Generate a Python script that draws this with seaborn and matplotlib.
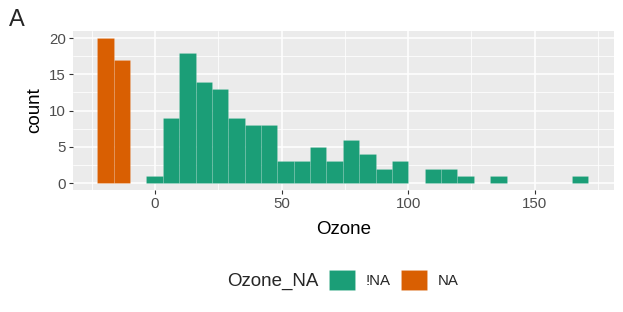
import numpy as np
import pandas as pd
import matplotlib
matplotlib.use("Agg")
import matplotlib.pyplot as plt
from matplotlib.ticker import MultipleLocator
import seaborn as sns

# histogram bins (30 bins, ggplot style) and counts
first_center = -19.6
bin_width = 6.47
n_bins = 30
na_counts = [20, 17]                      # bins 1-2 (shifted NA values)
obs_counts = [0, 1, 9, 18, 14, 13, 9, 8, 8, 3, 3, 5, 3, 6, 4, 2, 3, 0,
              2, 2, 1, 0, 1, 0, 0, 0, 0, 1]   # bins 3-30
groups = ["!NA", "NA"]
colors = ["#1B9E77", "#D95F02"]

centers = first_center + bin_width * np.arange(n_bins)
lo = centers[0] - bin_width / 2
hi = centers[-1] + bin_width / 2

df = pd.DataFrame({
    "Ozone": centers,
    "n": na_counts + obs_counts,
    "Ozone_NA": ["NA"] * len(na_counts) + ["!NA"] * len(obs_counts),
})

sns.set_theme(style="darkgrid", rc={
    "axes.facecolor": "#EBEBEB", "grid.color": "white",
    "axes.edgecolor": "#EBEBEB",
})
plt.rcParams["font.family"] = ["Liberation Sans", "DejaVu Sans"]

fig = plt.figure(figsize=(6.23, 3.12), dpi=100)
ax = fig.add_axes([0.1169, 0.3902, 0.8687, 0.5112])

sns.histplot(data=df, x="Ozone", weights="n", hue="Ozone_NA",
             binwidth=bin_width, binrange=(lo, hi),
             hue_order=groups, palette=colors, alpha=1,
             edgecolor=(1, 1, 1, 0.2), linewidth=0.4, ax=ax)

ax.set_xlim(-32.5, 181.4)
ax.set_ylim(-1, 21)
ax.xaxis.set_major_locator(MultipleLocator(50))
ax.xaxis.set_minor_locator(MultipleLocator(25))
ax.yaxis.set_major_locator(MultipleLocator(5))
ax.yaxis.set_minor_locator(MultipleLocator(2.5))
ax.grid(which="major", color="white", linewidth=1.1)
ax.grid(which="minor", color="white", linewidth=0.55)
ax.set_axisbelow(True)
for s in ax.spines.values():
    s.set_visible(False)
ax.tick_params(which="major", length=3, width=0.8, color="#333333",
               labelsize=10.8, labelcolor="#4D4D4D", pad=2, bottom=True, left=True)
ax.tick_params(which="minor", length=0)
ax.set_xlabel("Ozone", fontsize=13.5, color="black", labelpad=7)
ax.set_ylabel("count", fontsize=13.5, color="black", labelpad=4)

sns.move_legend(ax, "center left", bbox_to_anchor=(0.507, 0.103),
                bbox_transform=fig.transFigure, ncol=2, title=None,
                frameon=False, fontsize=10.8, handlelength=1.7,
                handleheight=1.7, handletextpad=0.72, columnspacing=0.72)
fig.text(0.364, 0.098, "Ozone_NA", fontsize=13.5, va="center", ha="left")
fig.text(0.014, 0.97, "A", fontsize=17, va="top", ha="left")

fig.savefig("out.png", dpi=100)
